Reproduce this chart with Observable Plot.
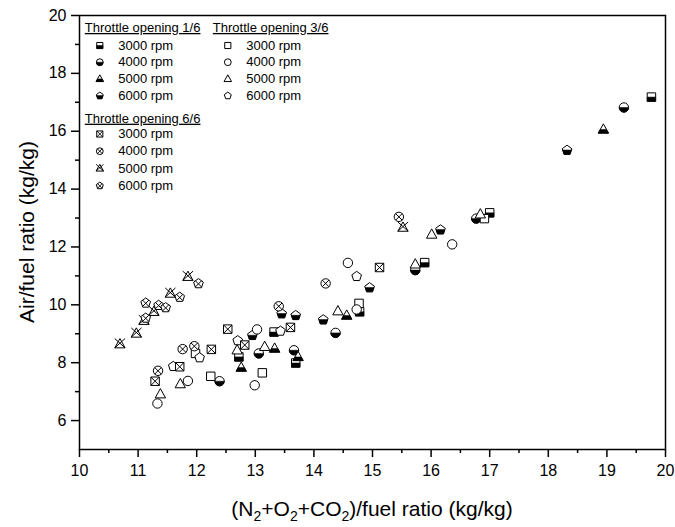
<!DOCTYPE html>
<html>
<head>
<meta charset="utf-8">
<script src="https://cdn.jsdelivr.net/npm/d3@7"></script>
<script src="https://cdn.jsdelivr.net/npm/@observablehq/plot@0.6"></script>
<style>
  html, body { margin: 0; padding: 0; background: white; }
  #chart { width: 675px; height: 527px; }
</style>
</head>
<body>
<div id="chart"></div>
<script>
// ---- data ----
const throttles = ["Throttle opening 1/6", "Throttle opening 3/6", "Throttle opening 6/6"];
const speeds = ["3000 rpm", "4000 rpm", "5000 rpm", "6000 rpm"];
const xTicks = [10, 11, 12, 13, 14, 15, 16, 17, 18, 19, 20];
const yTicks = [6, 8, 10, 12, 14, 16, 18, 20];

// Throttle 1/6
const t16_3000 = [[12.72, 8.20], [13.32, 9.06], [13.69, 7.99], [14.78, 9.76], [15.89, 11.46], [17.00, 13.18], [19.76, 17.18]];
const t16_4000 = [[12.39, 7.36], [13.06, 8.32], [13.66, 8.43], [14.37, 9.03], [15.73, 11.20], [16.77, 12.98], [19.29, 16.82]];
const t16_5000 = [[12.76, 7.83], [13.33, 8.49], [13.73, 8.20], [14.56, 9.63], [18.94, 16.06]];
const t16_6000 = [[12.95, 8.95], [13.45, 9.70], [13.69, 9.64], [14.16, 9.49], [14.95, 10.60], [16.16, 12.60], [18.32, 15.35]];
// Throttle 3/6
const t36_3000 = [[11.98, 8.32], [12.24, 7.53], [13.12, 7.65], [14.77, 10.05], [16.91, 12.98]];
const t36_4000 = [[11.33, 6.59], [11.85, 7.37], [12.99, 7.22], [13.03, 9.15], [14.73, 9.84], [14.58, 11.45], [16.36, 12.09]];
const t36_5000 = [[11.38, 6.91], [11.72, 7.26], [12.69, 8.43], [13.16, 8.55], [14.41, 9.78], [15.73, 11.40], [16.01, 12.43], [16.84, 13.13]];
const t36_6000 = [[11.60, 7.88], [12.05, 8.18], [12.70, 8.77], [13.43, 9.10], [14.73, 10.99]];
// Throttle 6/6
const t66_3000 = [[11.29, 7.36], [11.71, 7.86], [12.25, 8.46], [12.53, 9.16], [12.82, 8.61], [13.60, 9.22], [15.12, 11.29]];
const t66_4000 = [[11.34, 7.72], [11.76, 8.47], [11.96, 8.57], [13.40, 9.95], [14.20, 10.74], [15.45, 13.04]];
const t66_5000 = [[10.69, 8.64], [10.97, 9.01], [11.10, 9.45], [11.27, 9.76], [11.55, 10.39], [11.85, 10.97], [15.52, 12.67]];
const t66_6000 = [[11.13, 10.07], [11.13, 9.55], [11.35, 9.99], [11.47, 9.91], [11.71, 10.27], [12.03, 10.74]];

const seriesValues = [
  [t16_3000, t16_4000, t16_5000, t16_6000],
  [t36_3000, t36_4000, t36_5000, t36_6000],
  [t66_3000, t66_4000, t66_5000, t66_6000]
];

// ---- symbols ----
function sym(fn) { return { draw(ctx, size) { fn(ctx, Math.sqrt(size / Math.PI)); } }; }
function poly(ctx, pts) { ctx.moveTo(pts[0][0], pts[0][1]); for (let i = 1; i < pts.length; i++) ctx.lineTo(pts[i][0], pts[i][1]); ctx.closePath(); }
function seg(ctx, a, b) { ctx.moveTo(a[0], a[1]); ctx.lineTo(b[0], b[1]); }
const pent = (r) => d3.range(5).map(k => { const a = (-90 + 72 * k) * Math.PI / 180; return [1.08 * r * Math.cos(a), 1.08 * r * Math.sin(a) + 0.05 * r]; });

const shapeNames = ["square", "circle", "triangle", "pentagon"];
const outline = {
  square: sym((c, r) => poly(c, [[-0.9 * r, -0.9 * r], [0.9 * r, -0.9 * r], [0.9 * r, 0.9 * r], [-0.9 * r, 0.9 * r]])),
  circle: sym((c, r) => { c.moveTo(r, 0); c.arc(0, 0, r, 0, 2 * Math.PI); c.closePath(); }),
  triangle: sym((c, r) => poly(c, [[0, -1.2 * r], [1.1 * r, 0.78 * r], [-1.1 * r, 0.78 * r]])),
  pentagon: sym((c, r) => poly(c, pent(r)))
};
const half = {
  square: sym((c, r) => poly(c, [[-0.9 * r, 0], [0.9 * r, 0], [0.9 * r, 0.9 * r], [-0.9 * r, 0.9 * r]])),
  circle: sym((c, r) => { c.moveTo(r, 0); c.arc(0, 0, r, 0, Math.PI); c.closePath(); }),
  triangle: sym((c, r) => { const w = 1.1 * r * (1.2 / 1.98); poly(c, [[-w, 0], [w, 0], [1.1 * r, 0.78 * r], [-1.1 * r, 0.78 * r]]); }),
  pentagon: sym((c, r) => { const p = pent(r); const y0 = 0.05 * r; // split at approx center
    const t = (0 - p[1][1]) / (p[2][1] - p[1][1]); const xi = p[1][0] + (p[2][0] - p[1][0]) * t;
    poly(c, [[xi, 0], p[2], p[3], [-xi, 0]]); })
};
const cross = {
  square: sym((c, r) => { seg(c, [-0.9 * r, -0.9 * r], [0.9 * r, 0.9 * r]); seg(c, [0.9 * r, -0.9 * r], [-0.9 * r, 0.9 * r]); }),
  circle: sym((c, r) => { const k = 0.707 * r; seg(c, [-k, -k], [k, k]); seg(c, [k, -k], [-k, k]); }),
  triangle: sym((c, r) => { seg(c, [-1.1 * r, -1.2 * r], [1.1 * r, 0.78 * r]); seg(c, [1.1 * r, -1.2 * r], [-1.1 * r, 0.78 * r]); }),
  pentagon: sym((c, r) => { const k = 0.68 * r; seg(c, [-k, -k + 0.1 * r], [k, k + 0.1 * r]); seg(c, [k, -k + 0.1 * r], [-k, k + 0.1 * r]); })
};

// ---- table ----
const rows = [];
seriesValues.forEach((group, g) => group.forEach((pts, s) => pts.forEach(([x, y]) =>
  rows.push({ x, y, throttle: throttles[g], speed: speeds[s], g, s }))));

const R = 4.7, RL = 3.4;
const marks = [];

// data marks, drawn group by group
for (let g = 0; g < 3; g++) {
  for (let s = 0; s < 4; s++) {
    const d = rows.filter(r => r.g === g && r.s === s);
    const shp = shapeNames[s];
    marks.push(Plot.dot(d, { x: "x", y: "y", symbol: outline[shp], r: R, fill: "white", stroke: "black", strokeWidth: 1 }));
    if (g === 0) marks.push(Plot.dot(d, { x: "x", y: "y", symbol: half[shp], r: R, fill: "black", stroke: "black", strokeWidth: 0.5 }));
    if (g === 2) marks.push(Plot.dot(d, { x: "x", y: "y", symbol: cross[shp], r: R, fill: "none", stroke: "black", strokeWidth: 1 }));
  }
}

// legend (inside frame, top-left)
const legendPos = [
  { hx: 5.3, hy: 12.3, sx: 20.3, ey: 30, step: 16.7 },
  { hx: 133.3, hy: 12.3, sx: 148.3, ey: 30, step: 16.7 },
  { hx: 5.3, hy: 103, sx: 20.3, ey: 118.5, step: 17.2 }
];
throttles.forEach((t, g) => {
  const L = legendPos[g];
  marks.push(Plot.text([t], { frameAnchor: "top-left", dx: L.hx, dy: L.hy, text: d => d, textAnchor: "start", lineAnchor: "middle", fontSize: 13, fill: "black" }));
  speeds.forEach((sp, s) => {
    const shp = shapeNames[s];
    const dy = L.ey + L.step * s;
    marks.push(Plot.dot([sp], { frameAnchor: "top-left", dx: L.sx, dy, symbol: outline[shp], r: RL, fill: "white", stroke: "black", strokeWidth: 1 }));
    if (g === 0) marks.push(Plot.dot([sp], { frameAnchor: "top-left", dx: L.sx, dy, symbol: half[shp], r: RL, fill: "black", stroke: "black", strokeWidth: 0.5 }));
    if (g === 2) marks.push(Plot.dot([sp], { frameAnchor: "top-left", dx: L.sx, dy, symbol: cross[shp], r: RL, fill: "none", stroke: "black", strokeWidth: 0.9 }));
    marks.push(Plot.text([sp], { frameAnchor: "top-left", dx: L.sx + 18.4, dy, text: d => d, textAnchor: "start", lineAnchor: "middle", fontSize: 13, fill: "black" }));
  });
});

// axes
const xMinor = xTicks.slice(0, -1).map(v => v + 0.5);
const yMinor = yTicks.slice(0, -1).map(v => v + 1);
marks.push(
  Plot.axisX({ ticks: xTicks, tickSize: 8, tickPadding: 7, label: null, strokeWidth: 1.5, tickFormat: d => String(d), fill: "black" }),
  Plot.axisX({ ticks: xMinor, tickSize: 4, label: null, strokeWidth: 1.5, tickFormat: () => "" }),
  Plot.axisY({ ticks: yTicks, tickSize: 8, tickPadding: 5, label: null, strokeWidth: 1.5, tickFormat: d => String(d), fill: "black" }),
  Plot.axisY({ ticks: yMinor, tickSize: 4, label: null, strokeWidth: 1.5, tickFormat: () => "" }),
  Plot.frame({ stroke: "black", strokeWidth: 1.5 })
);

const chart = Plot.plot({
  width: 675,
  height: 527,
  marginLeft: 79,
  marginRight: 10,
  marginTop: 15,
  marginBottom: 78,
  x: { domain: [10, 20] },
  y: { domain: [5, 20] },
  style: { fontFamily: "'Liberation Sans', Arial, sans-serif", fontSize: "16px", color: "black", background: "white" },
  marks
});

const svg = d3.select(chart);
svg.selectAll("text").filter(function () { return this.textContent.startsWith("Throttle"); })
  .style("text-decoration", "underline");

// axis titles
svg.append("text")
  .attr("transform", "translate(34,232) rotate(-90)")
  .attr("text-anchor", "middle")
  .attr("font-size", 21)
  .attr("fill", "black")
  .text("Air/fuel ratio (kg/kg)");

const xt = svg.append("text")
  .attr("x", 372).attr("y", 516)
  .attr("text-anchor", "middle")
  .attr("font-size", 21)
  .attr("fill", "black");
const parts = [["(N", 0], ["2", 1], ["+O", 0], ["2", 1], ["+CO", 0], ["2", 1], [")/fuel ratio (kg/kg)", 0]];
let prevSub = false;
parts.forEach(([t, sub]) => {
  const ts = xt.append("tspan").text(t);
  if (sub) { ts.attr("font-size", 14).attr("dy", 5); prevSub = true; }
  else if (prevSub) { ts.attr("dy", -5); prevSub = false; }
});

document.getElementById("chart").appendChild(chart);
</script>
</body>
</html>
